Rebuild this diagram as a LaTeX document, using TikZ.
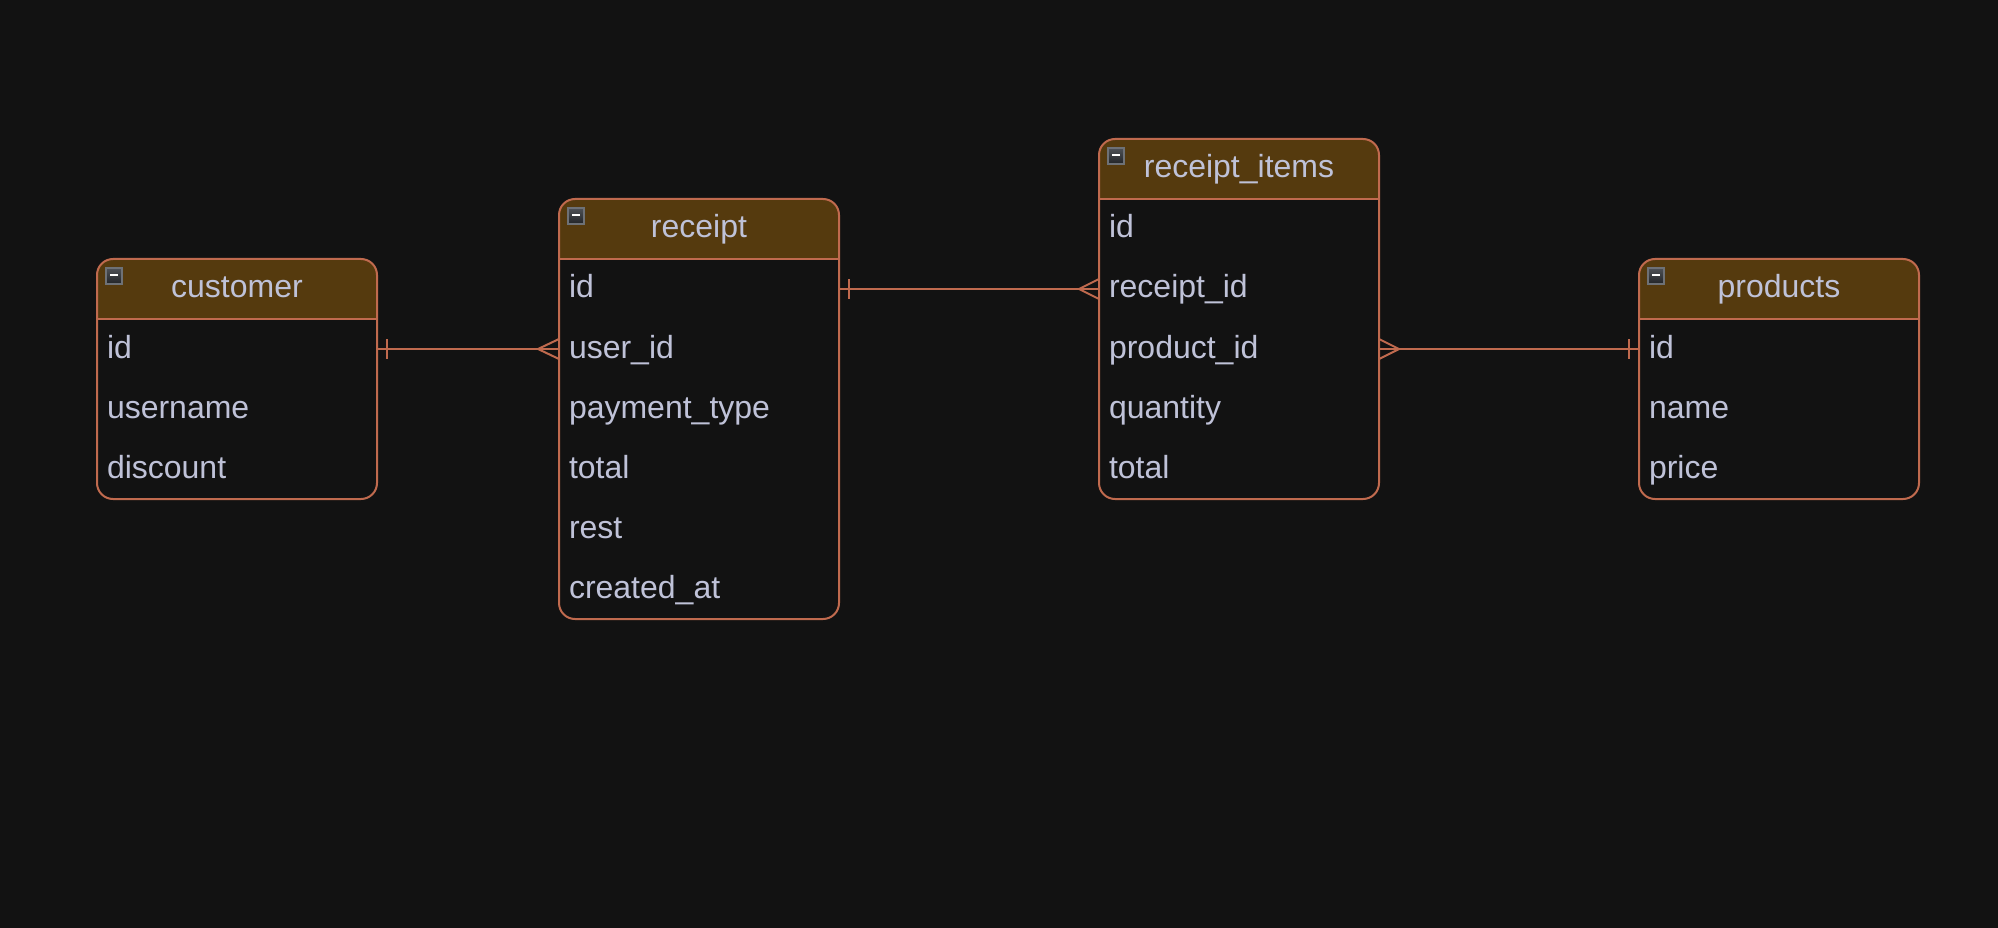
\documentclass[tikz,border=0pt]{standalone}
\usepackage{fontspec}
\setmainfont{Liberation Sans}
\usetikzlibrary{calc}
\definecolor{bgc}{HTML}{121212}
\definecolor{lnc}{HTML}{C06A4E}
\definecolor{hdrc}{HTML}{553A0E}
\definecolor{txtc}{HTML}{BFC2D8}
\definecolor{icontop}{HTML}{4E5156}
\definecolor{iconbot}{HTML}{222427}
\definecolor{iconrim}{HTML}{6E7176}
\tikzset{
  ln/.style={draw=lnc, line width=2pt},
  tbl/.style={draw=lnc, line width=2pt, rounded corners=16pt, minimum width=280pt,
    inner sep=0pt, outer sep=0pt, anchor=north west,
    path picture={\fill[hdrc, sharp corners] (path picture bounding box.north west) rectangle
      ([yshift=-60pt]path picture bounding box.north east);}},
  rowtxt/.style={anchor=north west, minimum width=280pt, minimum height=60pt,
    text width=260pt, align=left, inner xsep=10pt, inner ysep=0pt, outer sep=0pt,
    text height=24pt, text depth=6pt, text=txtc, font=\fontsize{32}{38}\selectfont},
  ttl/.style={inner sep=0pt, text height=24pt, text depth=6pt, text=txtc,
    font=\fontsize{32}{38}\selectfont},
  icn/.style={anchor=north west, minimum width=16pt, minimum height=16pt, inner sep=0pt,
    outer sep=0pt, draw=iconrim, line width=2pt, top color=icontop, bottom color=iconbot},
  minus/.style={draw=white, line width=2pt},
}
\newcommand{\erhead}[3]{% name, title
  \node[ttl] (#1-title) at ([yshift=-30pt]#1.north) {#2};
  \draw[ln] ([yshift=-60pt]#1.north west) -- ([yshift=-60pt]#1.north east);
  \node[icn] (#1-icon) at ([xshift=9pt,yshift=-9pt]#1.north west) {};
  \draw[minus] ([xshift=-4pt,yshift=1pt]#1-icon.center) -- ([xshift=4pt,yshift=1pt]#1-icon.center);
}
\begin{document}
\begin{tikzpicture}[x=1pt,y=-1pt]
\fill[bgc] (0,0) rectangle (1998,928);
\useasboundingbox (0,0) rectangle (1998,928);

% customer
\node[tbl, minimum height=240pt] (customer) at (97,259) {};
\erhead{customer}{customer}{}
\node[rowtxt] (c-id) at ([yshift=-60pt]customer.north west) {id};
\node[rowtxt] (c-username) at (c-id.south west) {username};
\node[rowtxt] (c-discount) at (c-username.south west) {discount};

% receipt
\node[tbl, minimum height=420pt] (receipt) at (559,199) {};
\erhead{receipt}{receipt}{}
\node[rowtxt] (r-id) at ([yshift=-60pt]receipt.north west) {id};
\node[rowtxt] (r-uid) at (r-id.south west) {user\_id};
\node[rowtxt] (r-pt) at (r-uid.south west) {payment\_type};
\node[rowtxt] (r-total) at (r-pt.south west) {total};
\node[rowtxt] (r-rest) at (r-total.south west) {rest};
\node[rowtxt] (r-created) at (r-rest.south west) {created\_at};

% receipt_items
\node[tbl, minimum height=360pt] (items) at (1099,139) {};
\erhead{items}{receipt\_items}{}
\node[rowtxt] (i-id) at ([yshift=-60pt]items.north west) {id};
\node[rowtxt] (i-rid) at (i-id.south west) {receipt\_id};
\node[rowtxt] (i-pid) at (i-rid.south west) {product\_id};
\node[rowtxt] (i-qty) at (i-pid.south west) {quantity};
\node[rowtxt] (i-total) at (i-qty.south west) {total};

% products
\node[tbl, minimum height=240pt] (products) at (1639,259) {};
\erhead{products}{products}{}
\node[rowtxt] (p-id) at ([yshift=-60pt]products.north west) {id};
\node[rowtxt] (p-name) at (p-id.south west) {name};
\node[rowtxt] (p-price) at (p-name.south west) {price};

% customer.id -- receipt.user_id
\draw[ln] (c-id.east) -- (r-uid.west);
\draw[ln] ([xshift=10pt,yshift=10pt]c-id.east) -- ([xshift=10pt,yshift=-10pt]c-id.east);
\draw[ln] ([yshift=10pt]r-uid.west) -- ([xshift=-21pt]r-uid.west) -- ([yshift=-10pt]r-uid.west);

% receipt.id -- receipt_items.receipt_id
\draw[ln] (r-id.east) -- (i-rid.west);
\draw[ln] ([xshift=10pt,yshift=10pt]r-id.east) -- ([xshift=10pt,yshift=-10pt]r-id.east);
\draw[ln] ([yshift=10pt]i-rid.west) -- ([xshift=-20pt]i-rid.west) -- ([yshift=-10pt]i-rid.west);

% receipt_items.product_id -- products.id
\draw[ln] (i-pid.east) -- (p-id.west);
\draw[ln] ([yshift=10pt]i-pid.east) -- ([xshift=20pt]i-pid.east) -- ([yshift=-10pt]i-pid.east);
\draw[ln] ([xshift=-10pt,yshift=10pt]p-id.west) -- ([xshift=-10pt,yshift=-10pt]p-id.west);
\end{tikzpicture}
\end{document}
